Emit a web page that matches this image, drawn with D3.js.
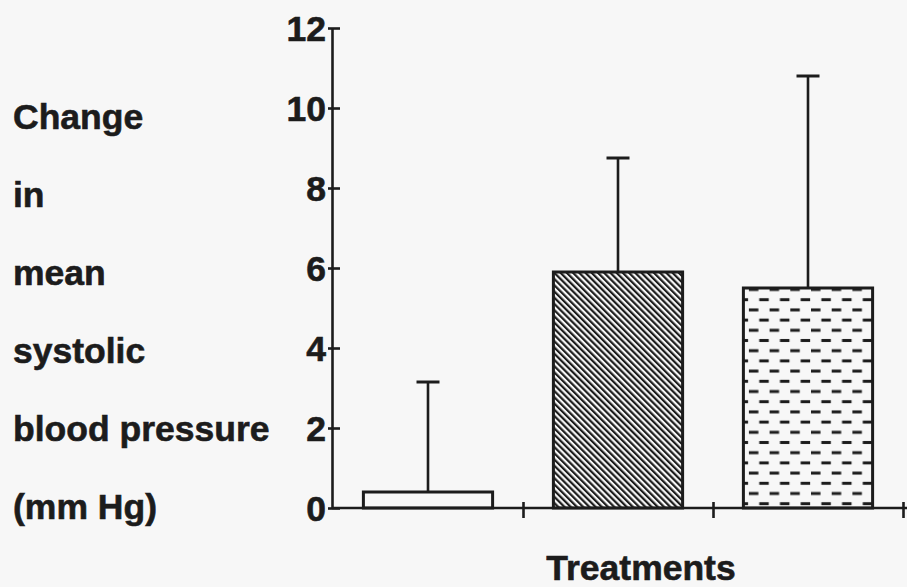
<!DOCTYPE html>
<html>
<head>
<meta charset="utf-8">
<script src="https://cdn.jsdelivr.net/npm/d3@7"></script>
<style>
  html, body { margin: 0; padding: 0; background: #f7f7f7; }
  svg { display: block; }
  text { font-family: "Liberation Sans", Arial, Helvetica, sans-serif; font-weight: bold; fill: #1c1c1c; stroke: #1c1c1c; stroke-width: 0.6px; }
</style>
</head>
<body>
<svg id="chart" width="907" height="587"></svg>
<script>
// Treatment groups, mean change and error (upper bar length), in mm Hg
const treatments = ["Treatment 1", "Treatment 2", "Treatment 3"];
const meanChange = [0.4, 5.9, 5.5];
const errorUp = [2.75, 2.85, 5.3];
const yTicks = [0, 2, 4, 6, 8, 10, 12];
const yTitleLines = ["Change", "in", "mean", "systolic", "blood pressure", "(mm Hg)"];
const xTitle = "Treatments";

const ink = "#1c1c1c";
const paper = "#f7f7f7";
const fontSize = 35.5;

const svg = d3.select("#chart");
const axisX0 = 332, axisX1 = 903, axisY0 = 508, axisYTop = 28;

const y = d3.scaleLinear().domain([0, 12]).range([axisY0, axisYTop]);
const x = d3.scaleBand().domain(treatments).range([axisX0 + 1, axisX1])
  .paddingInner(0.32).paddingOuter(0.16);
const slot = d3.scaleLinear().domain([0, treatments.length]).range([axisX0 + 1, axisX1]);

// fill patterns: diagonal hatch and staggered dashes
const defs = svg.append("defs");
defs.append("pattern")
  .attr("id", "hatch")
  .attr("patternUnits", "userSpaceOnUse")
  .attr("width", 4.4).attr("height", 10)
  .attr("patternTransform", "rotate(-45)")
  .append("line")
  .attr("x1", 1.1).attr("x2", 1.1).attr("y1", 0).attr("y2", 10)
  .attr("stroke", ink).attr("stroke-width", 2.2);

const dashX = x(treatments[2]) + 5.5;
const dashY = y(meanChange[2]) + 1.5;
const dashes = defs.append("pattern")
  .attr("id", "dashes")
  .attr("patternUnits", "userSpaceOnUse")
  .attr("x", dashX).attr("y", dashY)
  .attr("width", 20.7).attr("height", 20.4);
dashes.append("line").attr("x1", 0).attr("x2", 9.5).attr("y1", 0).attr("y2", 0)
  .attr("stroke", ink).attr("stroke-width", 3);
dashes.append("line").attr("x1", 0).attr("x2", 9.5).attr("y1", 20.4).attr("y2", 20.4)
  .attr("stroke", ink).attr("stroke-width", 3);
dashes.append("line").attr("x1", 10.35).attr("x2", 19.85).attr("y1", 10.2).attr("y2", 10.2)
  .attr("stroke", ink).attr("stroke-width", 3);

const fills = [paper, "url(#hatch)", "url(#dashes)"];

// error bars (drawn under the bar outlines)
const err = svg.append("g").attr("stroke", ink).attr("stroke-width", 2.6).attr("fill", "none");
treatments.forEach((t, i) => {
  const cx = x(t) + x.bandwidth() / 2;
  err.append("line").attr("x1", cx).attr("x2", cx)
    .attr("y1", y(meanChange[i])).attr("y2", y(meanChange[i] + errorUp[i]));
  err.append("line").attr("x1", cx - 11.5).attr("x2", cx + 11.5)
    .attr("y1", y(meanChange[i] + errorUp[i])).attr("y2", y(meanChange[i] + errorUp[i]))
    .attr("stroke-width", 3);
});

// bars
svg.append("g").selectAll("rect").data(treatments).join("rect")
  .attr("x", d => x(d))
  .attr("y", (d, i) => y(meanChange[i]))
  .attr("width", x.bandwidth())
  .attr("height", (d, i) => y(0) - y(meanChange[i]))
  .attr("fill", (d, i) => fills[i])
  .attr("stroke", ink)
  .attr("stroke-width", 3);

// y axis
const gy = svg.append("g").attr("transform", `translate(${axisX0},0)`)
  .call(d3.axisLeft(y).tickValues(yTicks).tickSize(-8).tickSizeOuter(0).tickPadding(7));
gy.select(".domain").attr("stroke", ink).attr("stroke-width", 2.6);
gy.selectAll(".tick line").attr("x1", -4).attr("x2", 8).attr("stroke", ink).attr("stroke-width", 2.6);
gy.selectAll(".tick text")
  .attr("x", -6)
  .attr("dy", "0.36em")
  .style("font-size", fontSize + "px")
  .style("font-family", '"Liberation Sans", Arial, sans-serif')
  .style("font-weight", "bold")
  .attr("fill", ink);

// x axis: unlabeled, ticks at the group boundaries
const gx = svg.append("g").attr("transform", `translate(0,${axisY0})`)
  .call(d3.axisBottom(slot).tickValues([1, 2, 3]).tickFormat("").tickSize(10).tickSizeOuter(0));
gx.select(".domain").attr("d", `M${axisX0},0H907`).attr("stroke", ink).attr("stroke-width", 2.6);
gx.selectAll(".tick line").attr("y1", -6).attr("y2", 10).attr("stroke", ink).attr("stroke-width", 2.6);

// axis titles
svg.append("g").selectAll("text").data(yTitleLines).join("text")
  .attr("x", 13)
  .attr("y", (d, i) => 129 + 78 * i)
  .style("font-size", fontSize + "px")
  .text(d => d);

svg.append("text")
  .attr("x", 641).attr("y", 580)
  .attr("text-anchor", "middle")
  .style("font-size", fontSize + "px")
  .text(xTitle);
</script>
</body>
</html>
